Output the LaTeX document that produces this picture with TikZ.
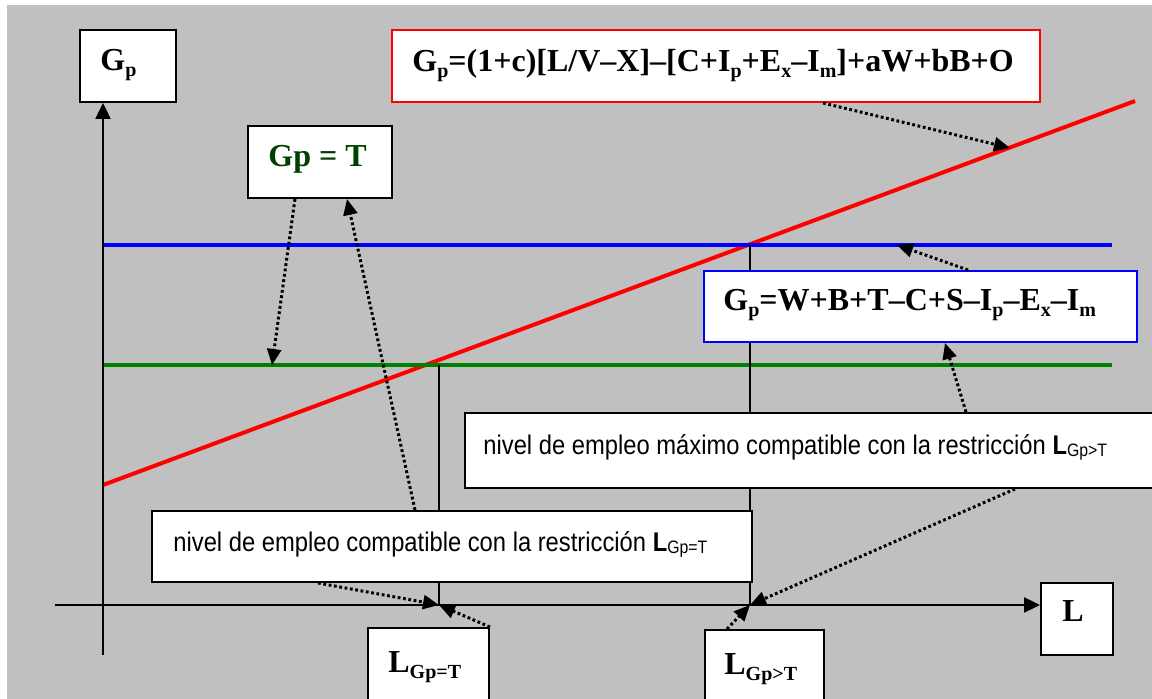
\documentclass[tikz,border=0pt]{standalone}
\usepackage{fontspec}
\setmainfont{Liberation Serif}
\newfontfamily\narrowsans[FakeStretch=0.88]{Liberation Sans}
\usetikzlibrary{arrows.meta}
\definecolor{bggray}{RGB}{192,192,192}
\definecolor{dkgreen}{RGB}{0,64,0}
\definecolor{lngreen}{RGB}{0,128,0}
\newcommand{\lowsub}[1]{\raisebox{-0.35ex}{\fontsize{10}{12}\selectfont #1}}
\newcommand{\sanssub}[1]{\raisebox{-0.8pt}{\fontsize{9}{11}\selectfont #1}}
\begin{document}
\begin{tikzpicture}[x=0.5pt,y=-0.5pt,
  box/.style={draw=black,line width=1pt,fill=white,inner sep=0pt,anchor=north west},
  sertext/.style={font=\fontsize{16}{19}\selectfont\bfseries,inner sep=0pt,anchor=base west},
  seltext/.style={font=\fontsize{16}{19}\selectfont\bfseries,inner sep=0pt,anchor=base west},
  santext/.style={font=\narrowsans\fontsize{13.5}{16}\selectfont,inner sep=0pt,anchor=base west},
  dotarrow/.style={line width=1.5pt,dash pattern=on 1.4pt off 1.3pt,-{Triangle[length=8pt,width=7pt]}},
  axisline/.style={line width=1.2pt,draw=black},
  curve/.style={line width=2pt}
]
\useasboundingbox (0,0) rectangle (1152,699);
\clip (0,0) rectangle (1152,699);
\fill[bggray] (7,5) rectangle (1170,720);

% curves
\draw[curve,red] (103,485) -- (1135,101);
\draw[curve,blue] (103,245) -- (1112,245);
\draw[curve,lngreen] (103,365) -- (1112,365);

% vertical guides
\draw[axisline] (439,365) -- (439,605);
\draw[axisline] (750,245) -- (750,605);

% boxes
\node[box,minimum width=48pt,minimum height=36pt] (gpbox) at (79,29) {};
\node[box,draw=red,minimum width=324pt,minimum height=36pt] (redbox) at (391,29) {};
\node[box,minimum width=72pt,minimum height=36pt] (gptbox) at (247,125) {};
\node[box,draw=blue,minimum width=216.5pt,minimum height=35.5pt] (bluebox) at (703,270) {};
\node[box,minimum width=360pt,minimum height=37.5pt] (maxbox) at (464,412) {};
\node[box,minimum width=300pt,minimum height=35.5pt] (compbox) at (151,510) {};
\node[box,minimum width=60.5pt,minimum height=45pt] (ltbox) at (367,627) {};
\node[box,minimum width=59.5pt,minimum height=45pt] (lgtbox) at (704,629) {};
\node[box,minimum width=36pt,minimum height=36pt] (lbox) at (1040,582) {};

% axes
\coordinate (yaxbot) at (103,655);
\coordinate (xaxleft) at (55,605);
\draw[axisline,-{Triangle[length=8pt,width=7.5pt]}] (yaxbot) -- (yaxbot |- gpbox.south);
\draw[axisline,-{Triangle[length=8pt,width=7.5pt]}] (xaxleft) -- (xaxleft -| lbox.west);

% texts
\node[sertext] (tgp) at (100,71) {G\lowsub{p}};
\node[sertext] (tred) at (412,72) {G\lowsub{p}=(1+c)[L/V–X]–[C+I\lowsub{p}+E\lowsub{x}–I\lowsub{m}]+aW+bB+O};
\node[sertext,text=dkgreen] (tgpt) at (268,167) {Gp = T};
\node[sertext] (tblue) at (723,311) {G\lowsub{p}=W+B+T–C+S–I\lowsub{p}–E\lowsub{x}–I\lowsub{m}};
\node[santext] (tmax) at (483,455) {nivel de empleo máximo compatible con la restricción {\bfseries L}\sanssub{Gp>T}};
\node[santext] (tcomp) at (173,552) {nivel de empleo compatible con la restricción {\bfseries L}\sanssub{Gp=T}};
\node[seltext] (tlt) at (388,673) {L\lowsub{Gp=T}};
\node[seltext] (tlgt) at (724,675) {L\lowsub{Gp>T}};
\node[seltext] (tl) at (1062,622) {L};

% arrow targets
\coordinate (pR) at (1010,148);
\coordinate (pG) at (272,365);
\coordinate (pB) at (897,245);
\coordinate (xT) at (439,605);
\coordinate (xM) at (750,605);

% dotted connectors
\draw[dotarrow] ([xshift=216pt]redbox.south west) -- (pR);
\draw[dotarrow] ([xshift=24pt]gptbox.south west) -- (pG);
\draw[dotarrow] ([xshift=132pt]compbox.north west) -- ([xshift=50pt]gptbox.south west);
\draw[dotarrow] ([xshift=132.5pt]bluebox.north west) -- (pB);
\draw[dotarrow] ([xshift=251pt]maxbox.north west) -- ([xshift=121pt]bluebox.south west);
\draw[dotarrow] ([xshift=83.5pt]compbox.south west) -- (xT);
\draw[dotarrow] (ltbox.north east) -- (xT);
\draw[dotarrow] ([xshift=275.5pt]maxbox.south west) -- (xM);
\draw[dotarrow] ([xshift=11.5pt]lgtbox.north west) -- (xM);
\end{tikzpicture}
\end{document}
